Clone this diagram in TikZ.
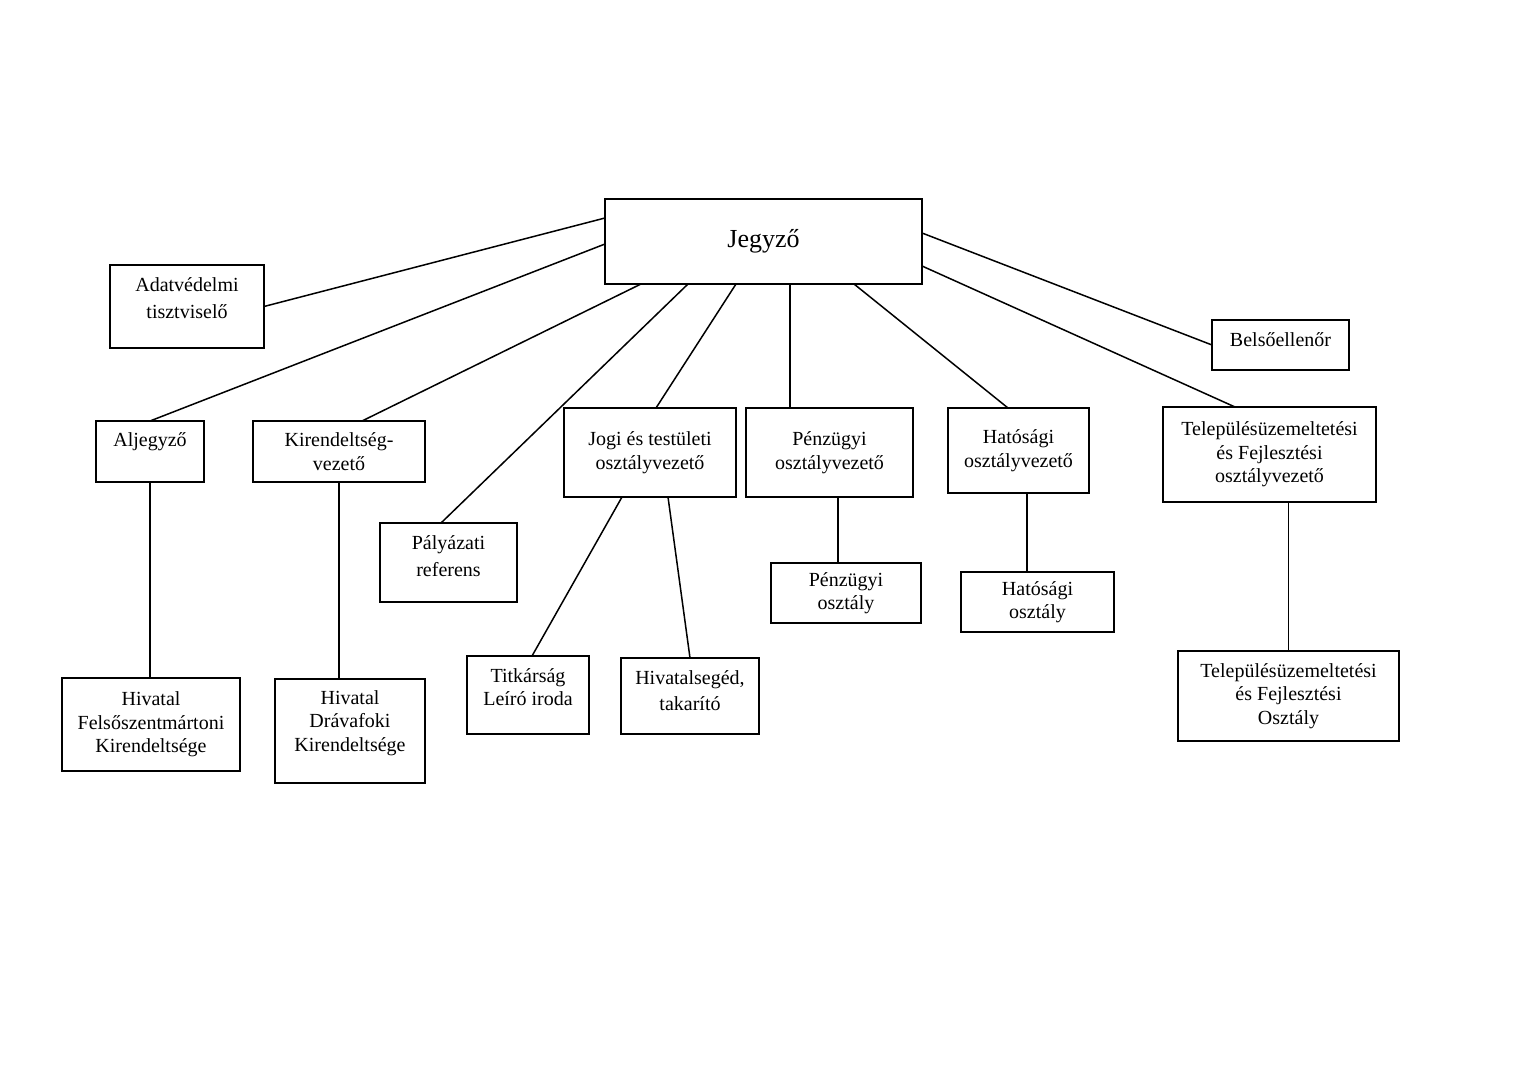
\documentclass[tikz,border=0pt]{standalone}
\usepackage{fontspec}
\setmainfont{Liberation Serif}

\begin{document}
\begin{tikzpicture}[x=0.5pt,y=-0.5pt,
    orgbox/.style 2 args = {rectangle,draw=black,line width=0.8pt,minimum width=#1*0.5pt,minimum height=#2*0.5pt,
        inner sep=1pt,outer sep=0mm,align=center,font=\fontsize{10}{11.75}\selectfont},
    link/.style = {draw=black,line width=0.75pt}]
\useasboundingbox (0,0) rectangle (1529,1080);
% top level
\node[orgbox={317}{85},line width=1.1pt,font=\fontsize{13}{15}\selectfont] (jegyzo) at (763.5,241.5) {Jegyző};
\node[orgbox={154}{83}] (adat) at (187,306.5) {Adatvédelmi\\[1.5pt]tisztviselő\\[-7pt]\strut};
\node[orgbox={137}{50}] (belso) at (1280.5,345) {Belsőellenőr\\[-10pt]\strut};
% second row
\node[orgbox={108}{61}] (alj) at (150,451.5) {Aljegyző\\[-3.5pt]\strut};
\node[orgbox={172}{61}] (kir) at (339,451.5) {Kirendeltség-\\vezető};
\node[orgbox={137}{79}] (paly) at (448.5,562.5) {Pályázati\\[1.5pt]referens\\[-9pt]\strut};
\node[orgbox={172}{89}] (jogi) at (650,452.5) {Jogi és testületi\\osztályvezető};
\node[orgbox={167}{89}] (penzov) at (829.5,452.5) {Pénzügyi\\osztályvezető};
\node[orgbox={141}{85}] (hatov) at (1018.5,450.5) {Hatósági\\osztályvezető};
\node[orgbox={213}{95}] (telov) at (1269.5,454.5) {Településüzemeltetési\\és Fejlesztési\\osztályvezető};
% lower row
\node[orgbox={150}{60}] (penzo) at (846,593) {Pénzügyi\\osztály};
\node[orgbox={153}{60}] (hato) at (1037.5,602) {Hatósági\\osztály};
\node[orgbox={221}{90}] (telo) at (1288.5,696) {Településüzemeltetési\\és Fejlesztési\\Osztály};
\node[orgbox={178}{93}] (felso) at (151,724.5) {Hivatal\\Felsőszentmártoni\\Kirendeltsége};
\node[orgbox={150}{104}] (drava) at (350,731) {Hivatal\\Drávafoki\\Kirendeltsége\\[-5pt]\strut};
\node[orgbox={122}{78}] (titk) at (528,695) {Titkárság\\Leíró iroda\\[-7.5pt]\strut};
\node[orgbox={138}{76}] (hivseg) at (690,696) {Hivatalsegéd,\\[1pt]takarító\\[-10pt]\strut};
% connectors from Jegyzo
\draw[link] ([yshift=-9.5pt]jegyzo.north west) -- (adat.east);
\draw[link] ([yshift=-1.25pt]jegyzo.west) -- (alj.north);
\draw[link] ([xshift=18pt]jegyzo.south west) -- ([xshift=11.5pt]kir.north);
\draw[link] ([xshift=41.5pt]jegyzo.south west) -- ([xshift=-3.75pt]paly.north);
\draw[link] ([xshift=65.5pt]jegyzo.south west) -- ([xshift=3pt]jogi.north);
\draw[link] ([xshift=-19.75pt]penzov.north) -- ([xshift=-19.75pt]penzov.north |- jegyzo.south);
\draw[link] ([xshift=124.5pt]jegyzo.south west) -- ([xshift=-5.25pt]hatov.north);
\draw[link] ([yshift=-17pt]jegyzo.north east) -- (belso.west);
\draw[link] ([yshift=-33.5pt]jegyzo.north east) -- ([xshift=-17.25pt]telov.north);
% connectors below
\draw[link] (alj.south) -- (alj.south |- felso.north);
\draw[link] (kir.south) -- (kir.south |- drava.north);
\draw[link] ([xshift=-14pt]jogi.south) -- ([xshift=2pt]titk.north);
\draw[link] ([xshift=9pt]jogi.south) -- (hivseg.north);
\draw[link] ([xshift=-4pt]penzo.north) -- ([xshift=-4pt]penzo.north |- penzov.south);
\draw[link] ([xshift=-5.25pt]hato.north) -- ([xshift=-5.25pt]hato.north |- hatov.south);
\draw[link] (telo.north) -- (telo.north |- telov.south);
\end{tikzpicture}
\end{document}
